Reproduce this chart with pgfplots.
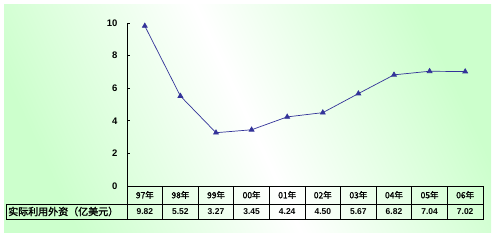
\documentclass[border=0pt]{standalone}
\usepackage{fontspec}
\setmainfont{Liberation Sans}
\newfontfamily\cjk{Noto Sans CJK SC}[FakeBold=1.5]
\usepackage{pgfplots}
\pgfplotsset{compat=1.18}
\definecolor{bgg}{HTML}{CCFFCC}
\definecolor{navy}{HTML}{333399}
\begin{document}
\begin{tikzpicture}[x=1pt,y=1pt]
\path[use as bounding box] (0,0) rectangle (499,-242);
\shade[left color=bgg, right color=bgg, middle color=white, shading angle=-65] (4,-4) rectangle (491,-232);
\begin{axis}[at={(127pt,-186pt)}, anchor=south west,
  width=356pt, height=163pt, scale only axis,
  xmin=-0.5, xmax=9.5, ymin=0, ymax=10,
  axis x line=none, axis y line*=left,
  ytick={0,2,...,10}, xtick=\empty,
  tick align=inside, major tick length=3pt,
  y axis line style={black, line width=0.8pt},
  tick style={black, line width=0.8pt},
  yticklabel style={font=\bfseries\fontsize{9.5}{11}\selectfont, xshift=-6pt},
  /pgf/number format/assume math mode=true,
  clip=false]
\addplot[navy, line width=0.7pt, mark=triangle*, mark size=2.8pt, mark options={fill=navy}]
  coordinates {(0,9.82)(1,5.52)(2,3.27)(3,3.45)(4,4.24)(5,4.50)(6,5.67)(7,6.82)(8,7.04)(9,7.02)};
\end{axis}
\draw[black, line width=0.8pt] (127,-186) -- (483,-186) -- (483,-219) -- (6,-219) -- (6,-204) -- (483,-204);
\foreach \k in {0,...,9} \draw[black, line width=0.8pt] ({127+35.6*\k},-186) -- ({127+35.6*\k},-219);
\foreach \lab [count=\i from 0] in {97年,98年,99年,00年,01年,02年,03年,04年,05年,06年}
  \node[font=\cjk\fontsize{8.5}{9}\selectfont, inner sep=0pt] at ({127+35.6*\i+17.8}, -195) {\lab};
\foreach \lab [count=\i from 0] in {9.82,5.52,3.27,3.45,4.24,4.50,5.67,6.82,7.04,7.02}
  \node[font=\bfseries\fontsize{8.5}{9}\selectfont, inner sep=0pt] at ({127+35.6*\i+17.8}, -211.5) {\lab};
\node[font=\cjk\fontsize{10}{11}\selectfont, anchor=west, inner sep=0pt] at (8,-211.5) {实际利用外资（亿美元）};
\end{tikzpicture}
\end{document}
